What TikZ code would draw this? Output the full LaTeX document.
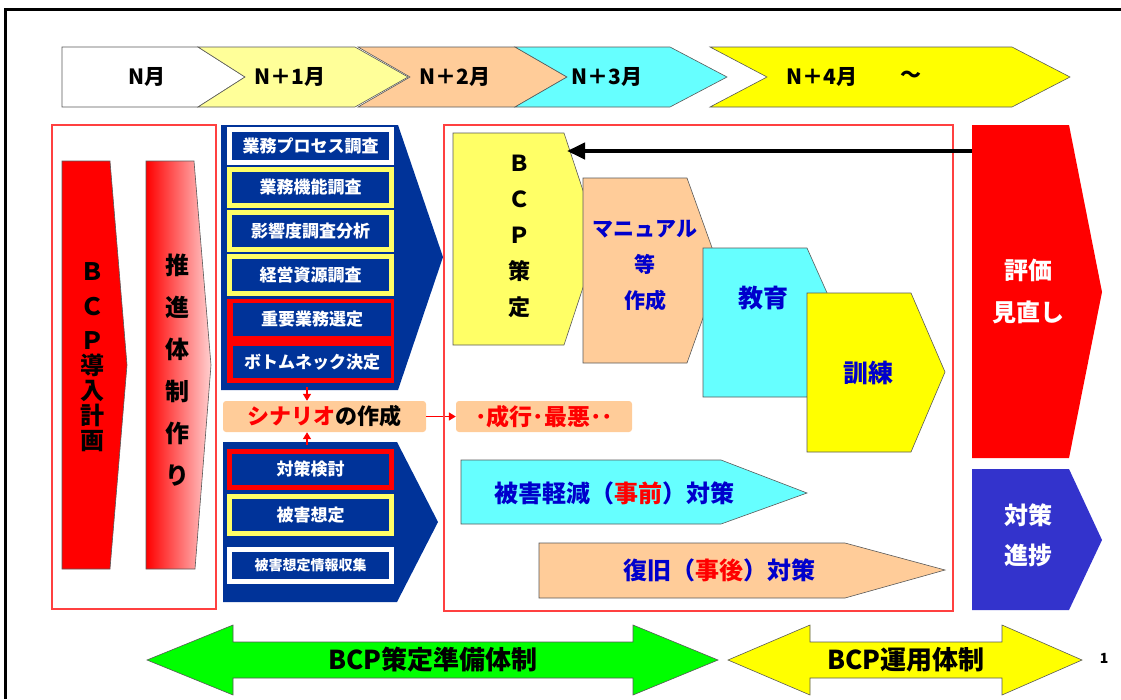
\documentclass[tikz,border=0pt]{standalone}
\usepackage{fontspec}
\setmainfont{Noto Sans CJK JP}
\usetikzlibrary{arrows.meta}
\newcommand\fsz[1]{\fontsize{#1}{#1}\selectfont}
\definecolor{navy}{HTML}{003399}
\definecolor{lyel}{HTML}{FFFF99}
\definecolor{myel}{HTML}{FFFF66}
\definecolor{peach}{HTML}{FFCC99}
\definecolor{cyanx}{HTML}{66FFFF}
\definecolor{yelx}{HTML}{FFFF00}
\definecolor{redx}{HTML}{FF0000}
\definecolor{bluet}{HTML}{0000CC}
\definecolor{bluebox}{HTML}{3333CC}
\definecolor{greenx}{HTML}{00FF00}
\definecolor{pinkx}{HTML}{FFD0D0}
\begin{document}
\begin{tikzpicture}[x=1pt,y=-1pt,
  shp/.style={draw=black!65, line width=0.6pt},
  lbl/.style={inner sep=0pt},
  itembox/.style={fill=navy, line width=5pt, minimum width=162pt, inner sep=0pt, text=white, font=\bfseries\fsz{17}},
  panelbox/.style={draw=red!75, line width=1.6pt},
  redarr/.style={draw=redx, line width=1.4pt, -{Triangle[length=7pt,width=8pt]}},
]
\useasboundingbox (0,0) rectangle (1121,699);
% outer frame
\draw[line width=3pt] (5,699) -- (5,9) -- (1121,9);

% timeline
\path[shp, fill=white] (62,47) -- (198,47) -- (245,77) -- (198,107) -- (62,107) -- cycle;
\path[shp, fill=lyel] (198,47) -- (355,47) -- (408,77) -- (355,107) -- (198,107) -- (245,77) -- cycle;
\path[shp, fill=peach] (358,47) -- (515,47) -- (567,77) -- (515,107) -- (358,107) -- (410,77) -- cycle;
\path[shp, fill=cyanx] (515,47) -- (670,47) -- (727,77) -- (670,107) -- (515,107) -- (567,77) -- cycle;
\path[shp, fill=yelx] (710,47) -- (1012,47) -- (1070,77) -- (1012,107) -- (710,107) -- (767,77) -- cycle;
\node[lbl, font=\bfseries\fsz{21}] (t0) at (147,77) {N月};
\node[lbl, font=\bfseries\fsz{21}] (t1) at (290,77) {N＋1月};
\node[lbl, font=\bfseries\fsz{21}] (t2) at (455,77) {N＋2月};
\node[lbl, font=\bfseries\fsz{21}] (t3) at (607,77) {N＋3月};
\node[lbl, font=\bfseries\fsz{21}] (t4) at (822,77) {N＋4月};
\node[lbl, font=\bfseries\fsz{21}] (t4b) at (911,77) {～};

% left panel
\draw[panelbox] (52,125) rectangle (216,609);
\path[shp, fill=redx] (62,161) -- (110,161) -- (127,365) -- (110,569) -- (62,569) -- cycle;
\path[shp, left color=redx, right color=pinkx] (146,161) -- (194,161) -- (211,365) -- (195,569) -- (146,569) -- cycle;
\node[lbl, align=center, font=\bfseries\fontsize{24}{25}\selectfont] (intro) at (92,357.5) {Ｂ\\[10pt]Ｃ\\[9pt]Ｐ\\導\\入\\計\\画};
\node[lbl, align=center, font=\bfseries\fontsize{24}{42}\selectfont] (suishin) at (177,370) {推\\進\\体\\制\\作\\り};

% upper blue panel
\path[fill=navy] (221,125) -- (398,125) -- (443,257) -- (398,390) -- (221,390) -- cycle;
\node[itembox, draw=white, minimum height=33pt] (b1) at (310.5,146) {業務プロセス調査};
\node[itembox, draw=myel, minimum height=36pt] (b2) at (310.5,187.5) {業務機能調査};
\node[itembox, draw=myel, minimum height=37pt] (b3) at (310.5,231) {影響度調査分析};
\node[itembox, draw=myel, minimum height=37pt] (b4) at (310.5,275) {経営資源調査};
\path[fill=redx] (227,299) rectangle (394,383);
\node[itembox, line width=0pt, minimum width=158pt, minimum height=33pt] (b5) at (312,319.5) {重要業務選定};
\node[itembox, line width=0pt, minimum width=158pt, minimum height=32pt] (b6) at (312,362) {ボトムネック決定};
\coordinate (upbot) at (307,387);

% scenario boxes
\node[lbl, fill=peach, rounded corners=3pt, minimum width=203pt, minimum height=31pt, font=\bfseries\fsz{22}] (scen) at (324.5,416.5) {\textcolor{redx}{シナリオ}の作成};
\node[lbl, fill=peach, rounded corners=3pt, minimum width=176pt, minimum height=31pt, font=\bfseries\fsz{23}, text=redx] (nari) at (544,416.5) {･成行･最悪･･};
\draw[redarr] (upbot) -- (upbot |- scen.north);
\draw[redarr] (scen.east) -- (nari.west);

% lower blue panel
\path[fill=navy] (223,442) -- (397,442) -- (438,522) -- (397,602) -- (223,602) -- cycle;
\coordinate (lowtop) at (307,445);
\draw[redarr] (lowtop) -- (lowtop |- scen.south);
\node[itembox, draw=redx, minimum height=36pt] (c1) at (310.5,469.5) {対策検討};
\node[itembox, draw=myel, minimum height=37pt] (c2) at (310.5,515) {被害想定};
\node[itembox, draw=white, minimum height=32pt, font=\bfseries\fsz{14}] (c3) at (310.5,565.5) {被害想定情報収集};

% middle panel
\draw[panelbox] (444,125) rectangle (953,611);
\path[shp, fill=myel] (453,133) -- (564,133) -- (599,239) -- (564,345) -- (453,345) -- cycle;
\path[shp, fill=peach] (583,178) -- (687,178) -- (720,270) -- (687,363) -- (583,363) -- cycle;
\path[shp, fill=cyanx] (703,248) -- (807,248) -- (840,322) -- (807,397) -- (703,397) -- cycle;
\path[shp, fill=yelx] (807,293) -- (911,293) -- (945,372) -- (911,452) -- (807,452) -- cycle;
\node[lbl, align=center, font=\bfseries\fontsize{22}{36}\selectfont] (bcp) at (519,236.5) {Ｂ\\Ｃ\\Ｐ\\策\\定};
\node[lbl, align=center, text=bluet, font=\bfseries\fontsize{21}{36}\selectfont] (manual) at (645,266) {マニュアル\\等\\作成};
\node[lbl, text=bluet, font=\bfseries\fsz{25}] (kyoiku) at (763,298) {教育};
\node[lbl, text=bluet, font=\bfseries\fsz{25}] (kunren) at (868,373) {訓練};

\path[shp, fill=cyanx] (461,460) -- (721,460) -- (807,493) -- (721,524) -- (461,524) -- cycle;
\path[shp, fill=peach] (539,543) -- (845,543) -- (945,570) -- (845,598) -- (539,598) -- cycle;
\node[lbl, text=bluet, font=\bfseries\fsz{24}] (gen) at (614,493) {被害軽減（\textcolor{redx}{事前}）対策};
\node[lbl, text=bluet, font=\bfseries\fsz{24}] (fuk) at (719,570) {復旧（\textcolor{redx}{事後}）対策};

% right column
\path[fill=redx] (972,125) -- (1069,125) -- (1102,292) -- (1069,458) -- (972,458) -- cycle;
\path[fill=bluebox] (972,469) -- (1069,469) -- (1102,540) -- (1069,610) -- (972,610) -- cycle;
\node[lbl, align=center, text=white, font=\bfseries\fontsize{24}{42}\selectfont] (hyoka) at (1028,291) {評価\\見直し};
\node[lbl, align=center, text=white, font=\bfseries\fontsize{24}{40}\selectfont] (shincho) at (1028,535) {対策\\進捗};
\coordinate (evalL) at (972,151);
\coordinate (bcpR) at (567,151);
\draw[line width=4pt, -{Triangle[length=18pt,width=16pt]}] (evalL) -- (bcpR);

% bottom double arrows
\path[shp, fill=greenx] (147,660) -- (233,625) -- (233,642) -- (633,642) -- (633,625) -- (718,660) -- (633,695) -- (633,678) -- (233,678) -- (233,695) -- cycle;
\path[shp, fill=yelx] (728,660) -- (810,625) -- (810,642) -- (1002,642) -- (1002,625) -- (1082,660) -- (1002,695) -- (1002,678) -- (810,678) -- (810,695) -- cycle;
\node[lbl, font=\bfseries\fsz{26}] (junbi) at (433,660) {BCP策定準備体制};
\node[lbl, font=\bfseries\fsz{26}] (unyo) at (906,660) {BCP運用体制};
\node[lbl, font=\bfseries\fsz{14}] (pg) at (1104,658) {1};
\end{tikzpicture}
\end{document}
